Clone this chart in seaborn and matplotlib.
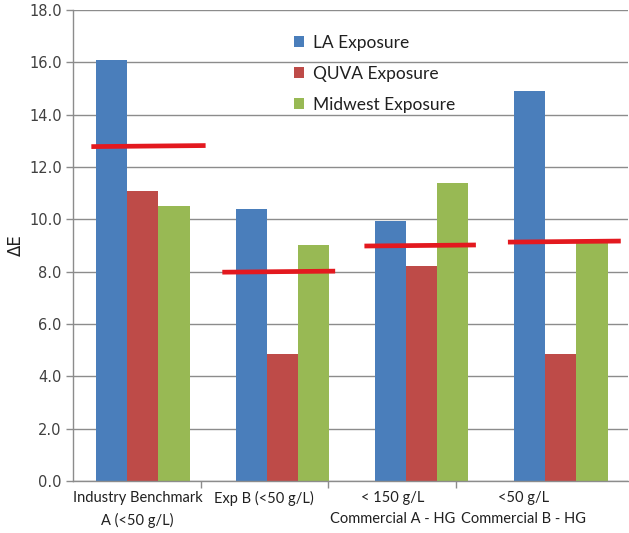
import numpy as np
import pandas as pd
import matplotlib
matplotlib.use("Agg")
import matplotlib.pyplot as plt
import seaborn as sns

# Data
categories = ["Industry Benchmark\nA (<50 g/L)", "Exp B (<50 g/L)",
              "< 150 g/L\nCommercial A - HG", "<50 g/L\nCommercial B - HG"]
series = ["LA Exposure", "QUVA Exposure", "Midwest Exposure"]
la_values = [16.1, 10.4, 9.95, 14.9]
quva_values = [11.1, 4.85, 8.2, 4.85]
midwest_values = [10.5, 9.0, 11.4, 9.1]
threshold_values = [12.8, 8.0, 9.0, 9.15]
y_ticks = [0, 2, 4, 6, 8, 10, 12, 14, 16, 18]

colors = ["#4a7ebb", "#be4b48", "#98b954"]

df = pd.DataFrame({
    "category": categories * 3,
    "series": [s for s in series for _ in categories],
    "value": la_values + quva_values + midwest_values,
})

sns.set_theme(style="white")
plt.rcParams["font.family"] = ["Lato", "DejaVu Sans"]

fig = plt.figure(figsize=(6.29, 5.33), dpi=100)
ax = fig.add_axes([0.116, 0.0976, 0.882, 0.8836])

ax.set_axisbelow(True)
ax.yaxis.grid(True, color="#8c8c8c", linewidth=1.0)

sns.barplot(data=df, x="category", y="value", hue="series", order=categories,
            hue_order=series, palette=colors, width=0.67, saturation=1,
            edgecolor="none", linewidth=0, ax=ax, legend=True)

# Reference threshold lines per group
line_spans = [(-0.37, 0.45), (-0.43, 0.38), (-0.41, 0.39), (-0.38, 0.43)]
for i, (thr, (a, b)) in enumerate(zip(threshold_values, line_spans)):
    ax.plot([i + a, i + b], [thr - 0.02, thr + 0.02], color="#e3191f",
            linewidth=3.4, solid_capstyle="butt", zorder=5)

ax.set_ylim(0, 18)
ax.set_xlim(-0.502, 3.48)
ax.set_yticks(y_ticks)
ax.set_yticklabels([f"{v:.1f}" for v in y_ticks], fontsize=10.5,
                   color="#404040", family=["DejaVu Sans"])
ax.tick_params(axis="y", which="major", left=True, length=5, width=1,
               color="#8c8c8c", pad=3)

# Category labels and separators along the x axis
label_pos = [-0.04, 0.87, 1.79, 2.73]
ax.set_xticks(label_pos)
ax.set_xticklabels(categories, fontsize=10.5, color="#202020", linespacing=1.65)
ax.tick_params(axis="x", which="major", length=0, pad=7)
ax.set_xticks([0.42, 1.33, 2.25], minor=True)
ax.tick_params(axis="x", which="minor", bottom=True, length=5, width=1,
               color="#8c8c8c")

ax.set_xlabel("")
ax.set_ylabel("ΔE", fontsize=12, color="#202020", labelpad=3,
              family=["DejaVu Sans"])

for side in ["top", "right"]:
    ax.spines[side].set_visible(False)
for side in ["left", "bottom"]:
    ax.spines[side].set_color("#8c8c8c")
    ax.spines[side].set_linewidth(1)

leg = ax.legend(loc="upper left", bbox_to_anchor=(0.37, 0.98), frameon=False,
                fontsize=12.5, handlelength=0.6, handleheight=0.6,
                handletextpad=0.5, labelspacing=0.85)
for t in leg.get_texts():
    t.set_color("#202020")

fig.savefig("out.png", dpi=100)
